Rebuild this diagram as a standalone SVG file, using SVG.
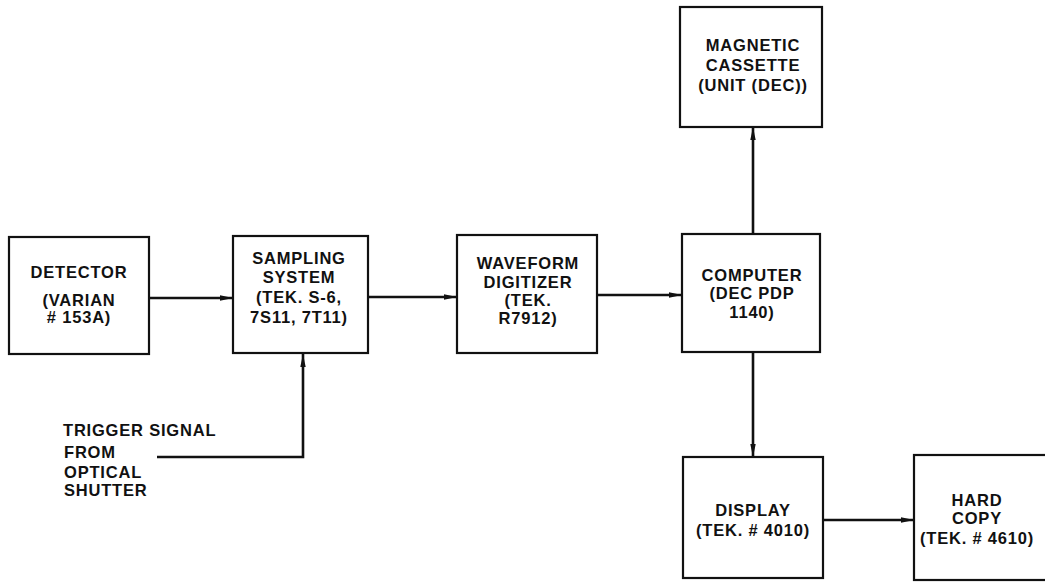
<svg xmlns="http://www.w3.org/2000/svg" width="1045" height="582" viewBox="0 0 1045 582">
<style>
.box{fill:#fff;stroke:#111;stroke-width:2.2}
.ln{fill:none;stroke:#111;stroke-width:2.6}
text{font-family:"Liberation Sans",Arial,sans-serif;font-weight:bold;font-size:16.5px;fill:#111;text-anchor:middle;letter-spacing:0.8px}
.l{text-anchor:start}
</style>
<defs>
<marker id="ah" viewBox="0 0 13 7" refX="13" refY="3.5" markerWidth="13" markerHeight="7" markerUnits="userSpaceOnUse" orient="auto">
<path d="M0,0.8 L13,3.5 L0,6.2 Z" fill="#111"/>
</marker>
</defs>
<rect width="1045" height="582" fill="#fff"/>
<g id="connectors">
<line class="ln" x1="149" y1="298" x2="233" y2="298" marker-end="url(#ah)"/>
<line class="ln" x1="368" y1="297" x2="457" y2="297" marker-end="url(#ah)"/>
<line class="ln" x1="597" y1="295" x2="682" y2="295" marker-end="url(#ah)"/>
<line class="ln" x1="753" y1="234" x2="753" y2="127" marker-end="url(#ah)"/>
<line class="ln" x1="753" y1="352" x2="753" y2="457" marker-end="url(#ah)"/>
<line class="ln" x1="823" y1="520" x2="914" y2="520" marker-end="url(#ah)"/>
<polyline class="ln" points="157,457 303,457 303,354" marker-end="url(#ah)"/>
</g>
<g id="detector">
<rect class="box" x="9" y="237" width="140" height="117"/>
<text x="79" y="278">DETECTOR</text>
<text x="79" y="306">(VARIAN</text>
<text x="79" y="323"># 153A)</text>
</g>
<g id="sampling">
<rect class="box" x="233" y="236" width="135" height="117"/>
<text x="299" y="264">SAMPLING</text>
<text x="299" y="283">SYSTEM</text>
<text x="299" y="303">(TEK. S-6,</text>
<text x="299" y="323">7S11, 7T11)</text>
</g>
<g id="waveform">
<rect class="box" x="457" y="235" width="140" height="118"/>
<text x="528" y="269">WAVEFORM</text>
<text x="528" y="288">DIGITIZER</text>
<text x="528" y="306">(TEK.</text>
<text x="528" y="324">R7912)</text>
</g>
<g id="computer">
<rect class="box" x="682" y="234" width="138" height="118"/>
<text x="752" y="281">COMPUTER</text>
<text x="752" y="299">(DEC PDP</text>
<text x="752" y="318">1140)</text>
</g>
<g id="magnetic">
<rect class="box" x="680" y="7" width="142" height="120"/>
<text x="753" y="51">MAGNETIC</text>
<text x="753" y="71">CASSETTE</text>
<text x="753" y="91">(UNIT (DEC))</text>
</g>
<g id="display">
<rect class="box" x="683" y="457" width="140" height="121"/>
<text x="753" y="516">DISPLAY</text>
<text x="753" y="536">(TEK. # 4010)</text>
</g>
<g id="hardcopy">
<rect class="box" x="914" y="455" width="140" height="125"/>
<text x="977" y="506">HARD</text>
<text x="977" y="524">COPY</text>
<text x="977" y="544">(TEK. # 4610)</text>
</g>
<g id="trigger">
<text class="l" x="63" y="436">TRIGGER SIGNAL</text>
<text class="l" x="64" y="458">FROM</text>
<text class="l" x="64" y="478">OPTICAL</text>
<text class="l" x="64" y="496">SHUTTER</text>
</g>
</svg>
